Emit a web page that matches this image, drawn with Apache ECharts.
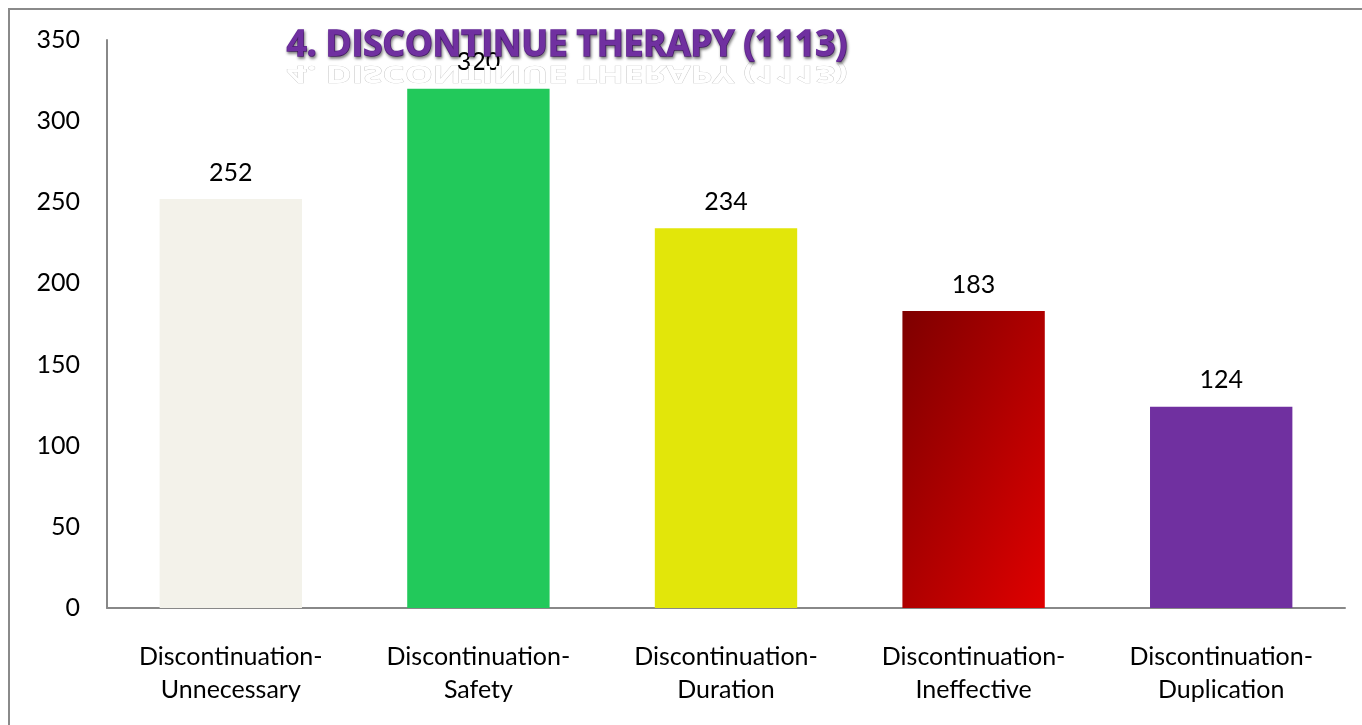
<!DOCTYPE html>
<html>
<head>
<meta charset="utf-8">
<script src="https://cdn.jsdelivr.net/npm/echarts@6/dist/echarts.min.js"></script>
<style>
html,body{margin:0;padding:0;background:#fff;}
#c{width:1362px;height:725px;}
</style>
</head>
<body>
<div id="c"></div>
<script>
const categories = ['Discontinuation-\nUnnecessary','Discontinuation-\nSafety','Discontinuation-\nDuration','Discontinuation-\nIneffective','Discontinuation-\nDuplication'];
const values = [252, 320, 234, 183, 124];
const yTicks = [0, 50, 100, 150, 200, 250, 300, 350];
const titleText = '4. DISCONTINUE THERAPY (1113)';

const barColors = [
  '#F3F2EA',
  '#22C95B',
  '#E2E60A',
  {type:'linear', x:0, y:0, x2:1.63, y2:0.37, colorStops:[{offset:0,color:'#7E0000'},{offset:1,color:'#E00000'}]},
  '#7030A0'
];

const chart = echarts.init(document.getElementById('c'), null, {renderer:'canvas'});
const FONT = 'Lato, "Open Sans", sans-serif';
chart.setOption({
  animation:false,
  backgroundColor:'#fff',
  grid:{left:107, right:17, top:40, bottom:117},
  xAxis:{
    type:'category',
    data:categories,
    axisLine:{show:true, lineStyle:{color:'#888', width:2}},
    axisTick:{show:false},
    axisLabel:{color:'#000', fontSize:25, fontFamily:FONT, lineHeight:33, margin:32, interval:0}
  },
  yAxis:{
    type:'value',
    min:yTicks[0], max:yTicks[yTicks.length-1], interval:50,
    axisLine:{show:true, lineStyle:{color:'#888', width:2}},
    axisTick:{show:false},
    splitLine:{show:false},
    axisLabel:{color:'#000', fontSize:25, fontFamily:FONT, margin:27}
  },
  series:[{
    type:'bar',
    barWidth:'57.5%',
    data: values.map((v,i)=>({value:v, itemStyle:{color:barColors[i]}})),
    label:{show:true, position:'top', distance:14, color:'#000', fontSize:25, fontFamily:FONT}
  }],
  graphic:[
    {type:'polyline', shape:{points:[[9,725],[9,9],[1362,9]]}, style:{stroke:'#8a8a8a', lineWidth:2, fill:null}, silent:true},
    {type:'text', x:567, y:61, scaleY:-0.65, z:5, style:{text:titleText, fill:'#ffffff', stroke:'rgba(110,110,110,0.4)', lineWidth:1, font:'bold 35px "Open Sans", sans-serif', align:'center', verticalAlign:'bottom'}, silent:true},
    {type:'text', x:567, y:46, z:10, style:{text:titleText, fill:'#7030A0', stroke:'#6A2C9C', lineWidth:1.5, font:'bold 35px "Open Sans", sans-serif', align:'center', verticalAlign:'middle', textShadowColor:'rgba(0,0,0,0.45)', textShadowBlur:3, textShadowOffsetX:1, textShadowOffsetY:2}, silent:true}
  ]
});
</script>
</body>
</html>
